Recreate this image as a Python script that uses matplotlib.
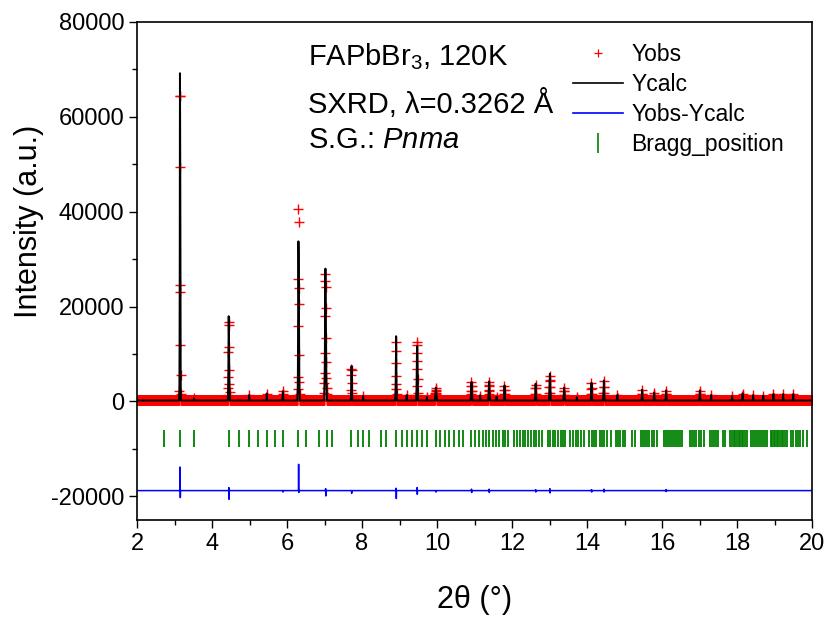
import numpy as np
import matplotlib
matplotlib.use('Agg')
import matplotlib.pyplot as plt
from matplotlib.lines import Line2D

plt.rcParams['font.family'] = ['Liberation Sans', 'DejaVu Sans']
plt.rcParams['mathtext.fontset'] = 'custom'
plt.rcParams['mathtext.rm'] = 'Liberation Sans'
plt.rcParams['mathtext.it'] = 'Liberation Sans:italic'
plt.rcParams['axes.unicode_minus'] = False

# measurement grid and flat background
tth_start = 2.0
tth_stop = 20.0
tth_step = 0.005
background = 200

peak_pos = [3.15, 3.52, 4.45, 4.99, 5.46, 5.89, 6.31, 7.03, 7.72, 8.03,
            8.91, 9.19, 9.47, 9.73, 9.97, 10.92, 11.15, 11.39, 11.59, 11.80,
            12.63, 13.01, 13.39, 13.73, 14.12, 14.45, 14.81, 15.47, 15.79, 16.11,
            17.01, 17.31, 17.87, 18.15, 18.43, 18.70, 18.97, 19.23, 19.50]
peak_obs = [
    [1200, 2300, 11850, 24500, 64400, 64300, 49500, 23000, 5470, 1500],
    [400, 650, 400],
    [1300, 2740, 5050, 10460, 16700, 16060, 11500, 6670, 3580, 2040, 1000],
    [600, 1300, 700],
    [700, 1600, 900],
    [900, 1400, 2100, 1500, 1000],
    [1400, 2670, 5200, 15850, 25800, 40560, 37750, 23850, 20540, 9750, 4060, 1500],
    [1830, 3790, 6040, 10310, 18040, 25330, 26880, 24200, 19720, 13470, 8280, 4840, 2800, 1500],
    [1200, 2460, 5620, 6880, 6700, 3940, 1700],
    [500, 1100, 600],
    [1300, 2530, 5330, 10590, 12560, 8000, 3580, 1500],
    [600, 1300, 700],
    [1400, 3220, 6740, 10250, 12480, 12000, 8480, 4630, 1800],
    [500, 900, 500],
    [800, 1200, 1500, 1800, 2200, 2900, 2400, 1800, 1500, 1200, 800],
    [1000, 1500, 2300, 3200, 4000, 3300, 2200, 1400, 900],
    [600, 1200, 700],
    [1000, 1600, 2500, 3400, 4100, 3200, 2100, 1300, 800],
    [500, 1000, 500],
    [900, 1500, 2400, 3300, 2500, 1500, 900],
    [900, 1500, 2900, 3500, 2900, 1600, 900],
    [1000, 1800, 3000, 4400, 5330, 4600, 3000, 1800, 1000],
    [800, 1400, 2100, 2800, 2100, 1300, 800],
    [500, 900, 500],
    [900, 1600, 2700, 3800, 2800, 1600, 900],
    [1000, 1800, 3000, 4300, 3100, 1800, 1000],
    [600, 1300, 700],
    [800, 1500, 2400, 1600, 800],
    [700, 1300, 1800, 1300, 700],
    [800, 1500, 2300, 1500, 800],
    [800, 1500, 2300, 1500, 800],
    [600, 1300, 700],
    [500, 1100, 600],
    [700, 1200, 1650, 1200, 700],
    [600, 1300, 700],
    [600, 1200, 600],
    [700, 1500, 700],
    [700, 1500, 700],
    [700, 1500, 700],
]
peak_calc = [
    [1100, 2500, 12000, 30000, 69200, 60000, 45000, 20000, 5500, 1400],
    [400, 700, 400],
    [1200, 2600, 5500, 11000, 17960, 15500, 11000, 6500, 3500, 2000, 1000],
    [600, 1330, 700],
    [700, 1680, 900],
    [900, 1400, 2170, 1500, 1000],
    [1300, 2600, 5500, 16500, 27000, 33750, 31000, 24000, 19000, 10000, 4000, 1400],
    [1800, 3700, 6000, 10500, 18500, 26000, 28000, 24500, 19500, 13500, 8300, 4900, 2800, 1500],
    [1200, 2500, 5600, 7430, 6800, 4000, 1700],
    [500, 1120, 600],
    [1300, 2600, 5500, 11000, 13750, 8200, 3600, 1500],
    [600, 1330, 700],
    [1400, 3300, 6800, 10300, 11650, 11400, 8500, 4700, 1800],
    [500, 900, 500],
    [700, 1000, 1300, 1700, 2200, 2880, 2300, 1700, 1300, 1000, 700],
    [900, 1400, 2200, 3200, 4070, 3200, 2100, 1300, 800],
    [600, 1260, 700],
    [900, 1500, 2400, 3400, 4210, 3200, 2000, 1200, 800],
    [500, 1000, 500],
    [800, 1400, 2300, 3370, 2400, 1400, 800],
    [800, 1400, 2600, 3730, 2600, 1400, 800],
    [900, 1700, 3000, 4500, 5830, 4500, 2900, 1700, 900],
    [800, 1400, 2100, 2880, 2100, 1300, 800],
    [500, 900, 500],
    [900, 1600, 2700, 3930, 2700, 1600, 900],
    [1000, 1800, 3000, 4420, 3000, 1800, 1000],
    [600, 1330, 700],
    [800, 1500, 2460, 1500, 800],
    [700, 1200, 1830, 1200, 700],
    [800, 1400, 2320, 1400, 800],
    [800, 1400, 2320, 1400, 800],
    [600, 1330, 700],
    [500, 1100, 600],
    [700, 1200, 1680, 1200, 700],
    [600, 1330, 700],
    [600, 1200, 600],
    [700, 1540, 700],
    [700, 1540, 700],
    [700, 1540, 700],
]

# difference curve: offset level and spikes (up, down) at the misfit reflections
diff_level = -18800
diff_pos = [3.15, 4.45, 5.89, 6.31, 7.03, 7.72, 8.91, 9.47, 9.97, 10.92,
            11.39, 12.63, 13.01, 14.12, 14.45, 16.11]
diff_hi = [4970, 630, 0, 5540, 420, 0, 500, 630, 0, 300,
           300, 200, 400, 200, 300, 200]
diff_lo = [-1470, -1830, -300, -400, -1130, -570, -1680, -780, -300, -400,
           -400, -300, -500, -300, -300, -200]

# Bragg reflection positions
bragg_pos = [2.72, 3.15, 3.53, 4.45, 4.72, 4.98, 5.22, 5.46, 5.68, 5.90,
             6.28, 6.50, 6.86, 7.06, 7.21, 7.71, 7.88, 8.04, 8.19, 8.50,
             8.64, 8.90, 9.06, 9.20, 9.33, 9.46, 9.59, 9.72, 9.97, 10.08,
             10.21, 10.33, 10.45, 10.58, 10.69, 10.91, 11.01, 11.11, 11.22, 11.31,
             11.39, 11.50, 11.58, 11.66, 11.75, 11.82, 11.90, 12.05, 12.12, 12.20,
             12.28, 12.35, 12.42, 12.50, 12.58, 12.64, 12.72, 12.80, 12.95, 13.02,
             13.08, 13.15, 13.22, 13.30, 13.36, 13.42, 13.55, 13.62, 13.70, 13.77,
             13.85, 13.92, 14.05, 14.12, 14.18, 14.25, 14.35, 14.39, 14.45, 14.54,
             14.63, 14.78, 14.83, 14.89, 14.96, 15.02, 15.20, 15.28, 15.43, 15.49,
             15.55, 15.60, 15.66, 15.73, 15.79, 15.86, 16.06, 16.10, 16.16, 16.21,
             16.26, 16.31, 16.37, 16.43, 16.48, 16.54, 16.75, 16.81, 16.86, 16.91,
             16.98, 17.04, 17.11, 17.27, 17.32, 17.38, 17.44, 17.49, 17.62, 17.69,
             17.82, 17.86, 17.91, 17.95, 18.00, 18.04, 18.08, 18.13, 18.17, 18.22,
             18.26, 18.38, 18.42, 18.48, 18.54, 18.59, 18.64, 18.69, 18.75, 18.80,
             18.91, 18.94, 18.98, 19.02, 19.06, 19.10, 19.15, 19.19, 19.24, 19.28,
             19.32, 19.44, 19.50, 19.56, 19.62, 19.67, 19.77, 19.86]
bragg_top = -6100
bragg_bottom = -9600

# build the patterns on the step grid
tth = np.arange(tth_start, tth_stop + tth_step / 2, tth_step)
yobs = np.full(tth.shape, float(background))
ycalc = np.full(tth.shape, float(background))
for pos, obs, calc in zip(peak_pos, peak_obs, peak_calc):
    i0 = int(round((pos - tth_start) / tth_step)) - len(obs) // 2
    yobs[i0:i0 + len(obs)] = obs
    ycalc[i0:i0 + len(calc)] = calc

ydiff = np.full(tth.shape, float(diff_level))
for pos, hi, lo in zip(diff_pos, diff_hi, diff_lo):
    i0 = int(round((pos - tth_start) / tth_step))
    ydiff[i0] += hi
    ydiff[i0 + 1] += lo

fig = plt.figure(figsize=(8.26, 6.2), dpi=100)
ax = fig.add_axes([137 / 826, 100 / 620, 675 / 826, 498 / 620])

ax.plot(tth, yobs, linestyle='none', marker='+', color='red', ms=7.5, mew=1.0)
ax.plot(tth, ycalc, color='black', lw=1.4)
ax.plot(tth, ydiff, color='blue', lw=1.1)
ax.vlines(bragg_pos, bragg_bottom, bragg_top, color='green', lw=1.3)

ax.set_xlim(2, 20)
ax.set_ylim(-25000, 80000)
ax.set_xticks(np.arange(2, 21, 2))
ax.set_xticks(np.arange(3, 20, 2), minor=True)
ax.set_yticks(np.arange(-20000, 80001, 20000))
ax.set_yticks(np.arange(-10000, 80000, 20000), minor=True)
ax.tick_params(which='major', length=6, width=1.0, labelsize=17, pad=3, direction='out')
ax.tick_params(which='minor', length=3.5, width=1.0, direction='out')
for sp in ax.spines.values():
    sp.set_linewidth(1.2)

ax.set_xlabel('2θ (°)', fontsize=22)
ax.set_ylabel('Intensity (a.u.)', fontsize=22)
ax.xaxis.set_label_coords(0.5, -0.13)
ax.yaxis.set_label_coords(-0.138, 0.6)

ax.text(0.253, 0.93, 'FAPbBr$_3$, 120K', transform=ax.transAxes, fontsize=21, va='center')
ax.text(0.253, 0.835, 'SXRD, λ=0.3262 Å', transform=ax.transAxes, fontsize=21, va='center')
ax.text(0.253, 0.763, 'S.G.: $\\mathit{Pnma}$', transform=ax.transAxes, fontsize=21, va='center')

handles = [
    Line2D([], [], linestyle='none', marker='+', color='red', ms=6, mew=0.9),
    Line2D([], [], color='black', lw=1.2),
    Line2D([], [], color='blue', lw=1.2),
    Line2D([], [], linestyle='none', marker='|', color='green', ms=14, mew=1.2),
]
labels = ['Yobs', 'Ycalc', 'Yobs-Ycalc', 'Bragg_position']
ax.legend(handles, labels, loc='upper left', bbox_to_anchor=(0.646, 0.958),
          frameon=False, fontsize=16.5, handlelength=2.2, handletextpad=0.35,
          labelspacing=0.3, borderpad=0, borderaxespad=0, numpoints=1)

fig.savefig('out.png', dpi=100)
